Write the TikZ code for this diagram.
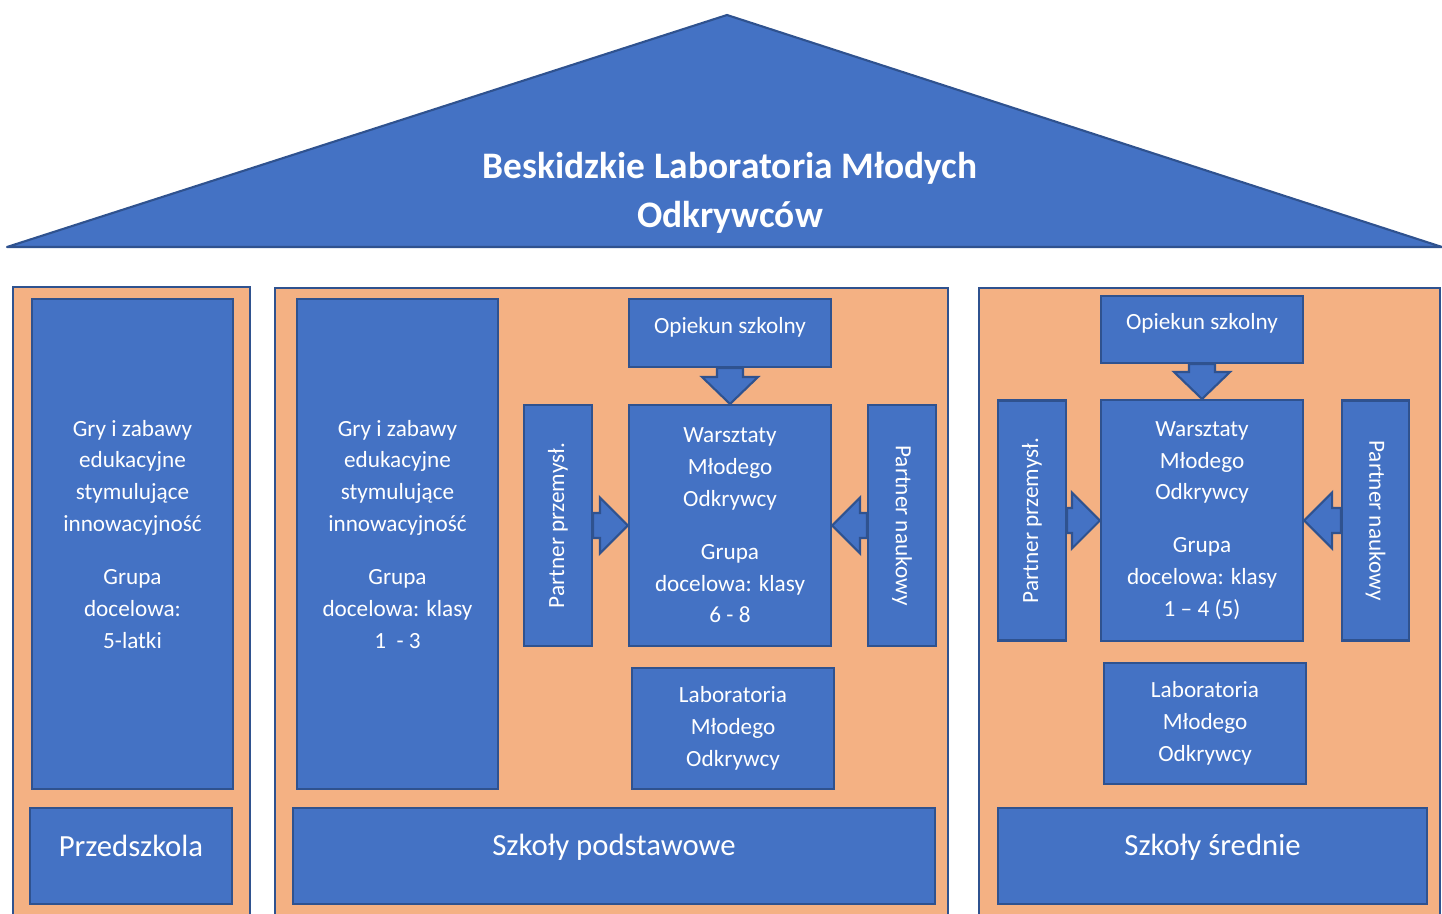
\documentclass[tikz,border=0pt]{standalone}
\usepackage{fontspec}
\setmainfont{Carlito}
\usetikzlibrary{calc}
\definecolor{boxblue}{HTML}{4472C4}
\definecolor{boxline}{HTML}{2F528F}
\definecolor{panelorange}{HTML}{F4B183}
\tikzset{
  panel/.style={draw=boxline, fill=panelorange, line width=1pt},
  box/.style={draw=boxline, fill=boxblue, line width=1.2pt, text=white, align=center, inner sep=2pt, font=\fontsize{13.2}{18.1}\selectfont},
  bigbox/.style={box, font=\fontsize{17.5}{21}\selectfont},
  blockarrow/.style={draw=boxline, fill=boxblue, line width=1.2pt},
}
\begin{document}
\begin{tikzpicture}[x=0.02cm,y=-0.02cm]
  \useasboundingbox (0,0) rectangle (1442,913);
  \clip (0,0) rectangle (1442,913);

  % roof
  \draw[blockarrow, line join=round] (7,247) -- (727,15) -- (1442,247) -- cycle;
  \node[text=white, align=center, font=\bfseries\fontsize{21.3}{28}\selectfont] (title) at (730,193) {Beskidzkie Laboratoria Młodych\\Odkrywców};

  % panels
  \draw[panel] (13,287) rectangle (250,940);
  \draw[panel] (275,288) rectangle (948,940);
  \draw[panel] (979,288) rectangle (1440,940);

  % przedszkola
  \node[box, text depth=0.4cm, minimum width=4.02cm, minimum height=9.8cm] (gryP) at (132.5,544) {Gry i zabawy\\edukacyjne\\stymulujące\\innowacyjność\\[12pt]Grupa\\docelowa:\\5-latki};
  \node[bigbox, text depth=0.4cm, minimum width=4.04cm, minimum height=1.92cm] (przedszkola) at (131,856) {Przedszkola};

  % szkoly podstawowe
  \node[box, text depth=0.4cm, minimum width=4.02cm, minimum height=9.8cm] (gryA) at (397.5,544) {Gry i zabawy\\edukacyjne\\stymulujące\\innowacyjność\\[12pt]Grupa\\docelowa: klasy\\1\ \ - 3};
  \node[box, text depth=0.32cm, minimum width=4.04cm, minimum height=1.36cm] (opiekA) at (730,333) {Opiekun szkolny};
  \node[box, minimum width=4.04cm, minimum height=4.82cm] (warA) at (730,525.5) {Warsztaty\\Młodego\\Odkrywcy\\[12pt]Grupa\\docelowa: klasy\\6 - 8};
  \node[box, minimum width=1.36cm, minimum height=4.82cm] (przemA) at (558,525.5) {\rotatebox{90}{Partner przemysł.}};
  \node[box, minimum width=1.36cm, minimum height=4.82cm] (naukA) at (902,525.5) {\rotatebox{-90}{Partner naukowy}};
  \node[box, minimum width=4.04cm, minimum height=2.42cm] (labA) at (733,728.5) {Laboratoria\\Młodego\\Odkrywcy};
  \node[bigbox, text depth=0.44cm, minimum width=12.84cm, minimum height=1.92cm] (podstawowe) at (614,856) {Szkoły podstawowe};

  % szkoly srednie
  \node[box, text depth=0.32cm, minimum width=4.04cm, minimum height=1.34cm] (opiekB) at (1202,329.5) {Opiekun szkolny};
  \node[box, minimum width=4.04cm, minimum height=4.82cm] (warB) at (1202,520.5) {Warsztaty\\Młodego\\Odkrywcy\\[12pt]Grupa\\docelowa: klasy\\1 – 4 (5)};
  \node[box, minimum width=1.36cm, minimum height=4.8cm] (przemB) at (1032,520.5) {\rotatebox{90}{Partner przemysł.}};
  \node[box, minimum width=1.34cm, minimum height=4.8cm] (naukB) at (1375.5,520.5) {\rotatebox{-90}{Partner naukowy}};
  \node[box, minimum width=4.04cm, minimum height=2.42cm] (labB) at (1205,723.5) {Laboratoria\\Młodego\\Odkrywcy};
  \node[bigbox, text depth=0.44cm, minimum width=8.58cm, minimum height=1.92cm] (srednie) at (1212.5,856) {Szkoły średnie};

  % block arrows into the workshops
  \foreach \p in {A,B} {
    \draw[blockarrow] ($(opiek\p.south)+(-13,0)$) -- ($(war\p.north)+(-13,-27)$) -- ($(war\p.north)+(-28,-27)$)
      -- (war\p.north) -- ($(war\p.north)+(28,-27)$) -- ($(war\p.north)+(13,-27)$) -- ($(opiek\p.south)+(13,0)$) -- cycle;
    \draw[blockarrow] ($(przem\p.east)+(0,-12.5)$) -- ($(war\p.west)+(-28,-12.5)$) -- ($(war\p.west)+(-28,-28)$)
      -- (war\p.west) -- ($(war\p.west)+(-28,28)$) -- ($(war\p.west)+(-28,12.5)$) -- ($(przem\p.east)+(0,12.5)$) -- cycle;
    \draw[blockarrow] ($(nauk\p.west)+(0,-12.5)$) -- ($(war\p.east)+(28,-12.5)$) -- ($(war\p.east)+(28,-28)$)
      -- (war\p.east) -- ($(war\p.east)+(28,28)$) -- ($(war\p.east)+(28,12.5)$) -- ($(nauk\p.west)+(0,12.5)$) -- cycle;
  }
\end{tikzpicture}
\end{document}
